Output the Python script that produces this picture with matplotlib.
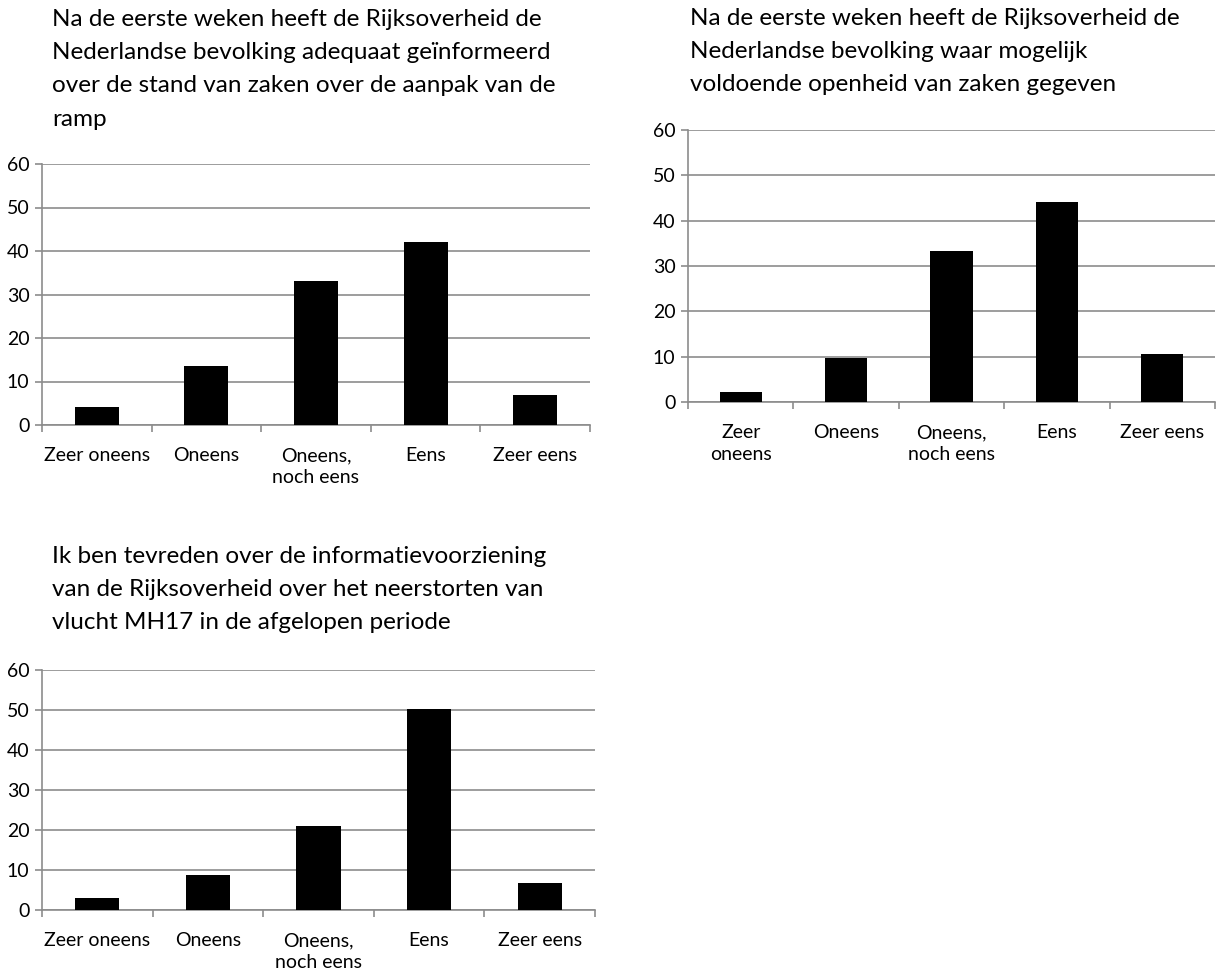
import matplotlib
matplotlib.use("Agg")
import matplotlib.pyplot as plt
import numpy as np

plt.rcParams['font.family'] = ['Lato', 'DejaVu Sans']

categories_a = ["Zeer oneens", "Oneens", "Oneens,\nnoch eens", "Eens", "Zeer eens"]
categories_b = ["Zeer\noneens", "Oneens", "Oneens,\nnoch eens", "Eens", "Zeer eens"]

values_1 = [4.2, 13.6, 33.0, 42.1, 7.0]
values_2 = [2.3, 9.8, 33.2, 44.2, 10.5]
values_3 = [2.9, 8.7, 21.1, 50.3, 6.8]

title_1 = ("Na de eerste weken heeft de Rijksoverheid de\n"
           "Nederlandse bevolking adequaat geïnformeerd\n"
           "over de stand van zaken over de aanpak van de\n"
           "ramp")
title_2 = ("Na de eerste weken heeft de Rijksoverheid de\n"
           "Nederlandse bevolking waar mogelijk\n"
           "voldoende openheid van zaken gegeven")
title_3 = ("Ik ben tevreden over de informatievoorziening\n"
           "van de Rijksoverheid over het neerstorten van\n"
           "vlucht MH17 in de afgelopen periode")

yticks = [0, 10, 20, 30, 40, 50, 60]

W, H = 1218, 973
fig = plt.figure(figsize=(W / 100, H / 100), dpi=100)
fig.patch.set_facecolor('white')

GRID = '#8c8c8c'
TXT = '#000000'
TICK_FS = 14
TITLE_FS = 17.5


def px_axes(x0, x1, ytop, ybot):
    return fig.add_axes([x0 / W, 1 - ybot / H, (x1 - x0) / W, (ybot - ytop) / H])


def draw(ax, cats, vals):
    x = np.arange(len(cats))
    ax.bar(x, vals, width=0.4, color='black', zorder=3)
    ax.set_xlim(-0.5, len(cats) - 0.5)
    ax.set_ylim(0, 60)
    ax.set_yticks(yticks)
    ax.set_yticklabels([str(t) for t in yticks], fontsize=TICK_FS, color=TXT)
    ax.yaxis.grid(True, color=GRID, linewidth=1.2, zorder=0)
    for s in ['top', 'right']:
        ax.spines[s].set_visible(False)
    for s in ['left', 'bottom']:
        ax.spines[s].set_color(GRID)
        ax.spines[s].set_linewidth(1.2)
    ax.set_xticks(np.arange(len(cats) + 1) - 0.5)
    ax.set_xticklabels([''] * (len(cats) + 1))
    ax.tick_params(axis='x', length=5, width=1.2, color=GRID)
    ax.tick_params(axis='y', length=5, width=1.2, color=GRID, pad=4)
    ax.set_xticks(x, minor=True)
    ax.set_xticklabels(cats, minor=True, fontsize=TICK_FS, color=TXT, linespacing=1.35)
    ax.tick_params(axis='x', which='minor', length=0, pad=16)


ax1 = px_axes(42, 590, 164, 425)
draw(ax1, categories_a, values_1)
ax2 = px_axes(688, 1215, 130, 402)
draw(ax2, categories_b, values_2)
ax3 = px_axes(42, 595, 670, 910)
draw(ax3, categories_a, values_3)

fig.text(52 / W, 1 - 9 / H, title_1, fontsize=TITLE_FS, va='top', ha='left',
         linespacing=1.72, color=TXT)
fig.text(690 / W, 1 - 8 / H, title_2, fontsize=TITLE_FS, va='top', ha='left',
         linespacing=1.72, color=TXT)
fig.text(52 / W, 1 - 546 / H, title_3, fontsize=TITLE_FS, va='top', ha='left',
         linespacing=1.72, color=TXT)

fig.savefig("out.png", dpi=100, facecolor='white')
